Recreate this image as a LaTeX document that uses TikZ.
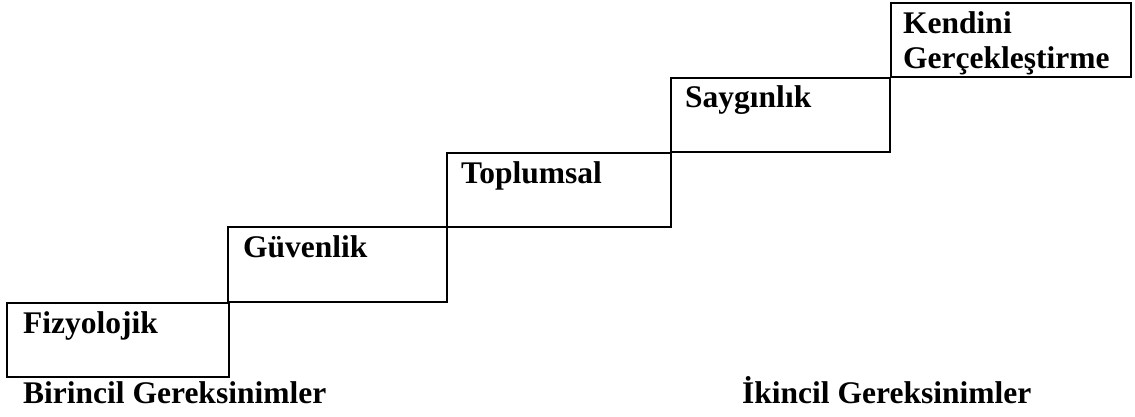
\documentclass[tikz,border=0pt]{standalone}
\usepackage{fontspec}
\setmainfont{Liberation Serif}
\begin{document}
\begin{tikzpicture}[x=1pt,y=-1pt,
  stepbox/.style={draw=black,line width=1.6pt,rectangle,inner sep=0pt,outer sep=0pt,anchor=north west},
  lbl/.style={anchor=base west,inner sep=0pt,font=\fontsize{31.5}{36}\selectfont\bfseries,align=left}]
\useasboundingbox (0,0) rectangle (1135,416);
\node[stepbox,minimum width=222pt,minimum height=74pt] (b1) at (7,303) {};
\node[stepbox,minimum width=219pt,minimum height=75pt] (b2) at (228,227) {};
\node[stepbox,minimum width=224pt,minimum height=74pt] (b3) at (447,153) {};
\node[stepbox,minimum width=219pt,minimum height=74pt] (b4) at (671,78) {};
\node[stepbox,minimum width=240pt,minimum height=74pt] (b5) at (891,3) {};
\node[lbl] (t1) at (23,333) {Fizyolojik};
\node[lbl] (t2) at (243,257) {Güvenlik};
\node[lbl] (t3) at (461,183) {Toplumsal};
\node[lbl] (t4) at (685,107) {Saygınlık};
\node[lbl] (t5a) at (903,33) {Kendini};
\node[lbl] (t5b) at (903,68) {Gerçekleştirme};
\node[lbl] (p1) at (23,403) {Birincil Gereksinimler};
\node[lbl] (p2) at (742,403) {İkincil Gereksinimler};
\end{tikzpicture}
\end{document}
